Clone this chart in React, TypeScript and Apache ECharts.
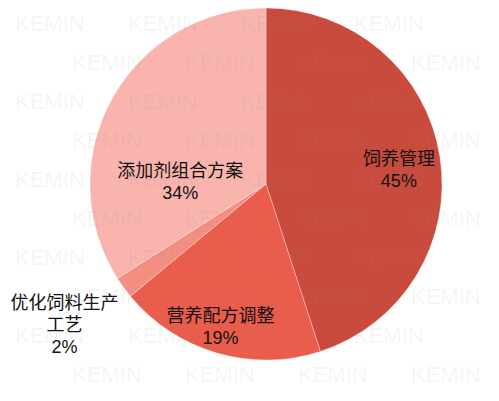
import { useEffect, useRef } from 'react';
import * as echarts from 'echarts';

// slices, clockwise from 12 o'clock
const categories = ['饲养管理', '营养配方调整', '优化饲料生产工艺', '添加剂组合方案'];
const labelNames = ['饲养管理', '营养配方调整', '优化饲料生产\n工艺', '添加剂组合方案'];
const values = [45, 19, 2, 34];
const colors = ['#C94B3D', '#EA5C4B', '#F58E82', '#F9B4AE'];
// nudges from the default inside position, in px
const labelOffsets = [
    [43, 0],
    [-20, 56],
    [-128, 88],
    [-6, 42],
];

const FONT = "'Liberation Sans', 'Noto Sans CJK SC', sans-serif";

const App = () => {
    const chartRef = useRef(null);

    useEffect(() => {
        const myChart = echarts.init(chartRef.current, null, { renderer: 'svg' });

        // faint KEMIN watermark tiles, kept inside the frame
        const marks: any[] = [];
        for (let row = 0; row < 10; row++) {
            const y = 12 + row * 39;
            const shift = row % 2 === 0 ? 15 : 72;
            for (let col = 0; col < 5; col++) {
                const x = shift + col * 113;
                if (x + 72 > 499) continue;
                marks.push({
                    type: 'text',
                    x,
                    y,
                    z: 100,
                    silent: true,
                    style: {
                        text: 'KEMIN',
                        font: `22px ${FONT}`,
                        fill: 'rgba(140,140,140,0.09)',
                    },
                });
            }
        }

        myChart.setOption({
            animation: false,
            graphic: marks,
            series: [
                {
                    type: 'pie',
                    center: [266, 184],
                    radius: 176,
                    startAngle: 90,
                    clockwise: true,
                    emphasis: { disabled: true },
                    itemStyle: {
                        borderColor: 'rgba(255,255,255,0.5)',
                        borderWidth: 0.6,
                    },
                    label: {
                        position: 'inside',
                        color: '#111',
                        fontSize: 18,
                        lineHeight: 22,
                        fontFamily: FONT,
                        align: 'center',
                    },
                    labelLine: { show: false },
                    data: categories.map((name, i) => ({
                        name,
                        value: values[i],
                        itemStyle: { color: colors[i] },
                        label: {
                            offset: labelOffsets[i],
                            formatter: `${labelNames[i]}\n${values[i]}%`,
                        },
                    })),
                },
            ],
        });

        return () => {
            myChart.dispose();
        };
    }, []);

    return (
        <div
            ref={chartRef}
            style={{ position: 'fixed', left: 0, top: 0, width: '499px', height: '401px', background: '#fff' }}
        />
    );
};

export default App;
